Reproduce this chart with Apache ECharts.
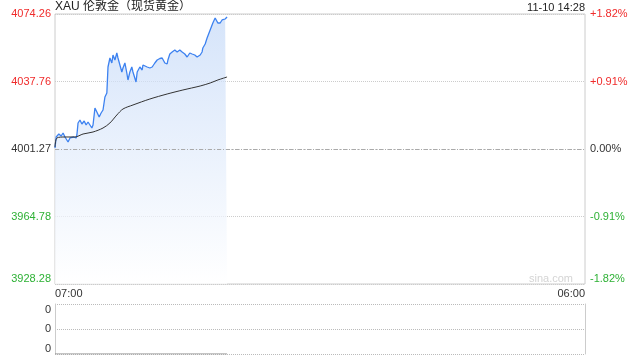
<!DOCTYPE html>
<html>
<head>
<meta charset="utf-8">
<script src="https://cdn.jsdelivr.net/npm/echarts@6/dist/echarts.min.js"></script>
<style>html,body{margin:0;padding:0;background:#fff}#c{width:640px;height:360px}</style>
</head>
<body>
<div id="c"></div>
<script>
// ---- data ----
const titleText = 'XAU 伦敦金（现货黄金）';
const stampText = '11-10 14:28';
const timeLabels = ['07:00', '06:00'];
const priceTicks = ['3928.28', '3964.78', '4001.27', '4037.76', '4074.26'];
const pctTicks = ['-1.82%', '-0.91%', '0.00%', '+0.91%', '+1.82%'];
const prevClose = 4001.27;
const priceTimes = ['07:00','07:03','07:05','07:10','07:16','07:21','07:26','07:31','07:34','07:39','07:44','07:49','07:55','07:57','08:00','08:05','08:10','08:16','08:21','08:26','08:31','08:36','08:39','08:44','08:49','08:55','09:00','09:05','09:10','09:15','09:18','09:23','09:28','09:31','09:36','09:41','09:44','09:49','09:54','09:57','10:02','10:07','10:10','10:15','10:20','10:23','10:28','10:31','10:34','10:41','10:47','10:49','10:54','11:00','11:02','11:07','11:13','11:15','11:20','11:26','11:28','11:33','11:39','11:41','11:46','11:52','11:54','11:59','12:05','12:07','12:12','12:18','12:25','12:31','12:33','12:38','12:44','12:46','12:51','12:57','12:59','13:04','13:10','13:12','13:18','13:23','13:25','13:31','13:36','13:38','13:44','13:49','13:51','13:57','14:02','14:04','14:10','14:15','14:17','14:23','14:28'];
const priceValues = [4001.81,4007.76,4008.84,4009.38,4008.30,4009.92,4007.76,4008.84,4005.05,4007.22,4006.14,4007.76,4007.22,4008.84,4015.33,4016.95,4014.79,4016.41,4014.25,4015.87,4015.33,4012.62,4014.25,4023.44,4021.28,4018.57,4020.73,4022.36,4029.39,4031.55,4045.61,4050.47,4047.77,4052.09,4049.39,4053.17,4050.47,4051.01,4042.90,4045.06,4047.77,4042.36,4038.58,4042.90,4045.61,4042.90,4042.36,4037.50,4042.90,4045.61,4043.98,4046.69,4047.77,4045.61,4046.69,4045.06,4045.61,4046.69,4047.77,4049.39,4050.47,4050.20,4050.47,4050.47,4047.77,4047.23,4049.39,4052.63,4053.72,4054.80,4054.80,4053.72,4054.80,4053.72,4053.17,4052.63,4051.01,4052.09,4053.17,4052.63,4053.17,4052.09,4051.01,4050.47,4052.09,4053.72,4055.88,4058.04,4061.28,4062.37,4065.61,4066.69,4069.39,4072.10,4071.56,4069.39,4069.39,4071.02,4069.94,4071.56,4072.64];
const avgTimes = ['07:00','07:05','07:26','07:52','08:13','08:39','09:05','09:23','09:41','09:57','10:23','11:07','11:52','12:33','13:18','13:44','14:04','14:28'];
const avgValues = [4002.35,4007.22,4007.76,4007.76,4009.38,4010.46,4012.62,4015.33,4019.65,4022.90,4025.06,4028.30,4031.01,4033.17,4035.33,4036.95,4038.58,4040.20];
const volTimes = ['07:00', '14:28'];
const volValues = [0, 0];
const volTicks = ['0', '0', '0'];

// ---- helpers ----
function toMin(t) { const p = t.split(':').map(Number); let v = (p[0] - 7) * 60 + p[1]; if (v < 0) v += 1440; return v; }
const SPAN = 23 * 60;
const pairs = (ts, vs) => ts.map((t, i) => [toMin(t), vs[i]]);
const RED = '#f02b2b', GREEN = '#2eb135', DARK = '#333';
function clr(i) { return i > 2 ? RED : (i < 2 ? GREEN : DARK); }
const FONT = 'Arial, "Liberation Sans", "Noto Sans CJK SC", sans-serif';
const yMin = Number(priceTicks[0]), yMax = Number(priceTicks[priceTicks.length - 1]);
const yInt = (yMax - yMin) / (priceTicks.length - 1);

const chart = echarts.init(document.getElementById('c'), null, { renderer: 'canvas' });
const labelBase = { fontSize: 11, fontFamily: FONT };
chart.setOption({
  animation: false,
  backgroundColor: '#fff',
  title: [
    { text: titleText, left: 55, top: 1, padding: 0, textStyle: { fontSize: 12, fontWeight: 'normal', color: '#222', fontFamily: FONT } },
    { text: stampText, right: 55, top: 2, padding: 0, textStyle: { fontSize: 11, fontWeight: 'normal', color: '#222', fontFamily: FONT } }
  ],
  graphic: [{ type: 'text', right: 67, top: 273, style: { text: 'sina.com', fill: '#d4d4d4', font: '11px Arial' } }],
  grid: [
    { left: 55, right: 55, top: 14, height: 270, show: true, borderColor: '#ccc', borderWidth: 1, backgroundColor: 'transparent' },
    { left: 55, right: 55, top: 304, height: 50 }
  ],
  xAxis: [
    { gridIndex: 0, type: 'value', min: 0, max: SPAN, interval: SPAN,
      axisLine: { show: false }, axisTick: { show: false }, splitLine: { show: false },
      axisLabel: Object.assign({}, labelBase, { color: DARK, margin: 4, alignMinLabel: 'left', alignMaxLabel: 'right',
        formatter: v => (v === 0 ? timeLabels[0] : timeLabels[1]) }) },
    { gridIndex: 1, type: 'value', min: 0, max: SPAN, interval: SPAN,
      axisLine: { show: false }, axisTick: { show: false }, splitLine: { show: false }, axisLabel: { show: false } }
  ],
  yAxis: [
    { gridIndex: 0, type: 'value', min: yMin, max: yMax, interval: yInt, position: 'left',
      axisLine: { show: false }, axisTick: { show: false },
      splitLine: { show: true, lineStyle: { color: '#ccc', type: 'dotted', width: 1 } },
      axisLabel: Object.assign({}, labelBase, { margin: 4, verticalAlignMinLabel: 'bottom', verticalAlignMaxLabel: 'top',
        formatter: (v, i) => priceTicks[i], color: (v) => clr(Math.round((v - yMin) / yInt)) }) },
    { gridIndex: 0, type: 'value', min: yMin, max: yMax, interval: yInt, position: 'right',
      axisLine: { show: false }, axisTick: { show: false }, splitLine: { show: false },
      axisLabel: Object.assign({}, labelBase, { margin: 5, verticalAlignMinLabel: 'bottom', verticalAlignMaxLabel: 'top',
        formatter: (v, i) => pctTicks[i], color: (v) => clr(Math.round((v - yMin) / yInt)) }) },
    { gridIndex: 1, type: 'value', min: 0, max: 2, interval: 1, position: 'left',
      axisLine: { show: true, lineStyle: { color: '#ccc' } }, axisTick: { show: false },
      splitLine: { show: true, lineStyle: { color: '#bbb', type: 'dotted' } },
      axisLabel: Object.assign({}, labelBase, { color: DARK, margin: 4, verticalAlignMinLabel: 'bottom', verticalAlignMaxLabel: 'top',
        formatter: (v, i) => volTicks[i] }) },
    { gridIndex: 1, type: 'value', min: 0, max: 2, interval: 1, position: 'right',
      axisLine: { show: true, lineStyle: { color: '#ccc' } }, axisTick: { show: false },
      splitLine: { show: false }, axisLabel: { show: false } }
  ],
  series: [
    { type: 'line', xAxisIndex: 0, yAxisIndex: 0, data: pairs(priceTimes, priceValues), showSymbol: false, symbol: 'none',
      lineStyle: { color: '#3d82f0', width: 1.3 },
      areaStyle: { color: new echarts.graphic.LinearGradient(0, 0, 0, 1, [
        { offset: 0, color: '#c4d9f8' }, { offset: 1, color: '#ffffff' }]) },
      markLine: { silent: true, symbol: ['none', 'none'], label: { show: false },
        lineStyle: { color: '#aaa', type: [4, 2, 1, 2], width: 1 }, data: [{ yAxis: prevClose }] },
      z: 3 },
    { type: 'line', xAxisIndex: 0, yAxisIndex: 0, data: pairs(avgTimes, avgValues), showSymbol: false, symbol: 'none', smooth: 0.3,
      lineStyle: { color: '#333', width: 1 }, z: 4 },
    { type: 'line', xAxisIndex: 1, yAxisIndex: 2, data: pairs(volTimes, volValues), showSymbol: false, symbol: 'none',
      lineStyle: { color: '#888', width: 1 }, z: 4 }
  ]
});
</script>
</body>
</html>
